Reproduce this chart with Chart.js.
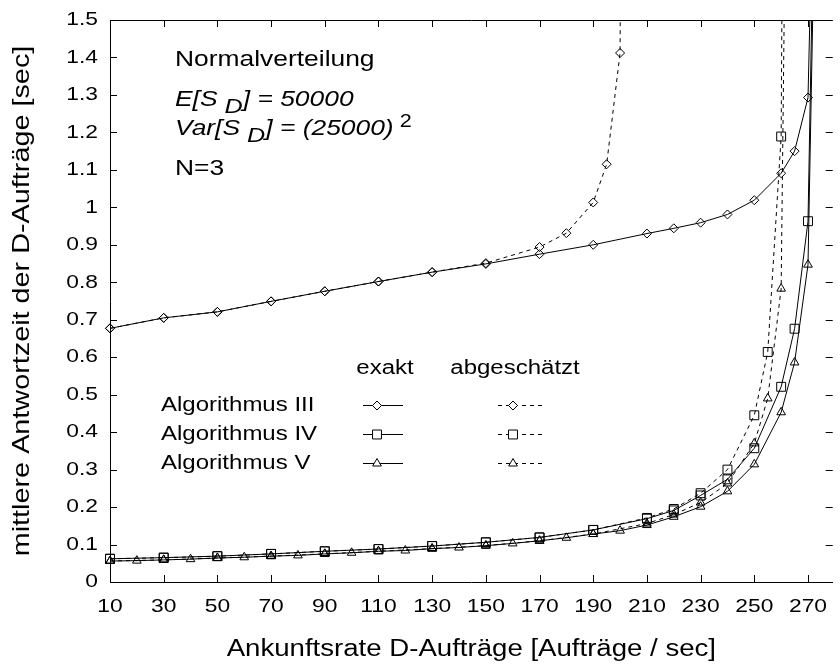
<!DOCTYPE html>
<html>
<head>
<meta charset="utf-8">
<script src="https://cdn.jsdelivr.net/npm/chart.js@4.4.1/dist/chart.umd.min.js"></script>
<style>
  html, body { margin: 0; padding: 0; background: #fff; overflow: hidden; }
  #chart { display: block; }
</style>
</head>
<body>
<canvas id="chart" width="840" height="667"></canvas>
<script>
// ===== Daten =====
const xTicks = [10, 30, 50, 70, 90, 110, 130, 150, 170, 190, 210, 230, 250, 270];
const yTicks = [0, 0.1, 0.2, 0.3, 0.4, 0.5, 0.6, 0.7, 0.8, 0.9, 1, 1.1, 1.2, 1.3, 1.4, 1.5];

// Algorithmus III
const x3Exakt = [10, 30, 50, 70, 90, 110, 130, 150, 170, 190, 210, 220, 230, 240, 250, 260, 265, 270, 272];
const y3Exakt = [0.677, 0.705, 0.721, 0.749, 0.776, 0.802, 0.827, 0.849, 0.875, 0.900, 0.930, 0.944, 0.959, 0.981, 1.019, 1.091, 1.150, 1.293, 1.90];
const x3Schaetz = [10, 30, 50, 70, 90, 110, 130, 150, 170, 180, 190, 195, 200, 201];
const y3Schaetz = [0.677, 0.705, 0.721, 0.749, 0.776, 0.802, 0.827, 0.851, 0.894, 0.931, 1.013, 1.115, 1.412, 3.0];

// Algorithmus IV
const x4Exakt = [10, 30, 50, 70, 90, 110, 130, 150, 170, 190, 210, 220, 230, 240, 250, 260, 265, 270, 272];
const y4Exakt = [0.062, 0.065, 0.069, 0.075, 0.082, 0.088, 0.096, 0.106, 0.119, 0.139, 0.169, 0.191, 0.231, 0.274, 0.357, 0.521, 0.676, 0.963, 1.75];
const x4Schaetz = [10, 30, 50, 70, 90, 110, 130, 150, 170, 190, 210, 220, 230, 240, 250, 255, 260, 261];
const y4Schaetz = [0.062, 0.065, 0.069, 0.075, 0.082, 0.088, 0.096, 0.106, 0.119, 0.139, 0.171, 0.195, 0.237, 0.300, 0.445, 0.614, 1.189, 2.4];

// Algorithmus V
const x5Exakt = [10, 20, 30, 40, 50, 60, 70, 80, 90, 100, 110, 120, 130, 140, 150, 160, 170, 180, 190, 200, 210, 220, 230, 240, 250, 260, 265, 270, 272];
const y5Exakt = [0.056, 0.057, 0.059, 0.061, 0.064, 0.066, 0.069, 0.071, 0.075, 0.078, 0.082, 0.084, 0.089, 0.092, 0.097, 0.103, 0.110, 0.118, 0.128, 0.137, 0.152, 0.174, 0.201, 0.242, 0.314, 0.453, 0.586, 0.847, 1.60];
const x5Schaetz = [10, 30, 50, 70, 90, 110, 130, 150, 170, 190, 210, 220, 230, 240, 250, 255, 260, 262];
const y5Schaetz = [0.056, 0.059, 0.064, 0.069, 0.075, 0.082, 0.089, 0.097, 0.110, 0.128, 0.156, 0.180, 0.212, 0.263, 0.370, 0.490, 0.783, 2.07];

const algoNames = ['Algorithmus III', 'Algorithmus IV', 'Algorithmus V'];
const xTitle = 'Ankunftsrate D-Aufträge [Aufträge / sec]';
const yTitle = 'mittlere Antwortzeit der D-Aufträge [sec]';

// ===== Stil =====
const FONT = '"Liberation Sans", Arial, Helvetica, sans-serif';
const SX = 1.2; // Schrift im Original ist breit gezogen
const markers = [
  { pointStyle: 'rectRot', radius: 4.5 },
  { pointStyle: 'rect', radius: 6.3 },
  { pointStyle: 'triangle', radius: 5 }
];
const DASH = [4, 4];

function toPoints(xs, ys) {
  return xs.map((x, i) => ({ x: x, y: ys[i] }));
}

function makeDataset(xs, ys, algo, dashed) {
  const m = markers[algo];
  return {
    data: toPoints(xs, ys),
    borderColor: '#000',
    borderWidth: 1,
    borderDash: dashed ? DASH : [],
    pointStyle: m.pointStyle,
    pointRadius: m.radius,
    pointBorderColor: '#000',
    pointBackgroundColor: 'rgba(0,0,0,0)',
    pointBorderWidth: 1,
    tension: 0,
    fill: false,
    clip: { left: 10, top: 0, right: 10, bottom: 10 }
  };
}

// gestreckten Text zeichnen
function sText(ctx, text, x, y, size, opts = {}) {
  ctx.save();
  ctx.font = (opts.italic ? 'italic ' : '') + size + 'px ' + FONT;
  ctx.fillStyle = '#000';
  ctx.textAlign = opts.align || 'left';
  ctx.textBaseline = opts.baseline || 'middle';
  ctx.translate(x, y);
  if (opts.rotate) ctx.rotate(opts.rotate);
  ctx.scale(SX, 1);
  ctx.fillText(text, 0, 0);
  const w = ctx.measureText(text).width * SX;
  ctx.restore();
  return w;
}

// mehrteiliger Text mit Tief-/Hochstellung
function richText(ctx, parts, x, y, size) {
  let cx = x;
  parts.forEach(p => {
    const s = p.size || size;
    cx += sText(ctx, p.t, cx, y + (p.dy || 0), s, { italic: p.italic, baseline: 'alphabetic' });
  });
}

const framePlugin = {
  id: 'frame',
  afterDraw(chart) {
    const ctx = chart.ctx;
    const area = chart.chartArea;
    const xs = chart.scales.x;
    const ys = chart.scales.y;
    const tl = 7;

    ctx.save();
    ctx.strokeStyle = '#000';
    ctx.lineWidth = 1;
    ctx.beginPath();
    ctx.moveTo(area.left, area.top + 0.5);
    ctx.lineTo(area.right, area.top + 0.5);
    xTicks.forEach(v => {
      const px = Math.round(xs.getPixelForValue(v)) + 0.5;
      ctx.moveTo(px, area.bottom); ctx.lineTo(px, area.bottom - tl);
      ctx.moveTo(px, area.top); ctx.lineTo(px, area.top + tl);
    });
    yTicks.forEach(v => {
      const py = Math.round(ys.getPixelForValue(v)) + 0.5;
      ctx.moveTo(area.left, py); ctx.lineTo(area.left + tl, py);
      ctx.moveTo(area.right, py); ctx.lineTo(area.right - tl, py);
    });
    ctx.stroke();
    ctx.restore();

    // Achsenbeschriftung
    xTicks.forEach(v => {
      sText(ctx, String(v), xs.getPixelForValue(v), area.bottom + 25, 19, { align: 'center' });
    });
    yTicks.forEach(v => {
      sText(ctx, String(v), area.left - 12, ys.getPixelForValue(v), 19, { align: 'right' });
    });
    sText(ctx, xTitle, (area.left + area.right) / 2, 650, 23, { align: 'center' });
    sText(ctx, yTitle, 22, (area.top + area.bottom) / 2, 24, { align: 'center', rotate: -Math.PI / 2 });

    // Parameter
    sText(ctx, 'Normalverteilung', 175, 60, 22);
    richText(ctx, [
      { t: 'E[S', italic: true },
      { t: ' D', italic: true, dy: 7, size: 21 },
      { t: '] = 50000', italic: true }
    ], 175, 106, 22);
    richText(ctx, [
      { t: 'Var[S', italic: true },
      { t: ' D', italic: true, dy: 7, size: 21 },
      { t: '] = (25000)', italic: true },
      { t: ' 2', dy: -8, size: 18 }
    ], 175, 135, 22);
    sText(ctx, 'N=3', 175, 169, 22);

    // Legende
    sText(ctx, 'exakt', 385, 368, 20, { align: 'center' });
    sText(ctx, 'abgeschätzt', 515, 368, 20, { align: 'center' });
    const rowY = [405, 434, 463];
    rowY.forEach((ry, i) => {
      sText(ctx, algoNames[i], 161, ry, 20);
      ctx.save();
      ctx.strokeStyle = '#000';
      ctx.lineWidth = 1;
      ctx.beginPath();
      ctx.moveTo(363, ry + 0.5); ctx.lineTo(403, ry + 0.5);
      ctx.stroke();
      ctx.setLineDash(DASH);
      ctx.beginPath();
      ctx.moveTo(498, ry + 0.5); ctx.lineTo(542, ry + 0.5);
      ctx.stroke();
      ctx.setLineDash([]);
      ctx.fillStyle = '#fff';
      const opt = { pointStyle: markers[i].pointStyle, radius: markers[i].radius, borderWidth: 1, rotation: 0 };
      Chart.helpers.drawPoint(ctx, opt, 377, ry + 0.5);
      Chart.helpers.drawPoint(ctx, opt, 513, ry + 0.5);
      ctx.restore();
    });
  }
};

new Chart(document.getElementById('chart'), {
  type: 'line',
  data: {
    datasets: [
      makeDataset(x3Exakt, y3Exakt, 0, false),
      makeDataset(x3Schaetz, y3Schaetz, 0, true),
      makeDataset(x4Exakt, y4Exakt, 1, false),
      makeDataset(x4Schaetz, y4Schaetz, 1, true),
      makeDataset(x5Exakt, y5Exakt, 2, false),
      makeDataset(x5Schaetz, y5Schaetz, 2, true)
    ]
  },
  options: {
    responsive: false,
    animation: false,
    layout: { padding: { top: 20, left: 0, right: 0, bottom: 0 } },
    plugins: { legend: { display: false }, tooltip: { enabled: false } },
    scales: {
      x: {
        type: 'linear',
        min: 10,
        max: 279.2,
        grid: { display: false },
        border: { display: true, color: '#000', width: 1 },
        ticks: { display: false },
        afterFit: s => { s.height = 85; }
      },
      y: {
        min: 0,
        max: 1.5,
        grid: { display: false },
        border: { display: true, color: '#000', width: 1 },
        ticks: { display: false },
        afterFit: s => { s.width = 110; }
      }
    }
  },
  plugins: [framePlugin]
});
</script>
</body>
</html>
